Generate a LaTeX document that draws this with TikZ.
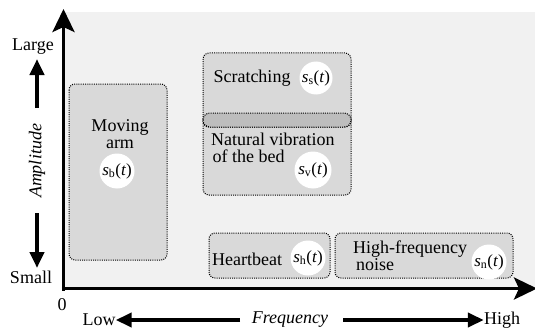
\documentclass[tikz,border=0pt]{standalone}
\usepackage{fontspec}
\setmainfont{Liberation Serif}
\usetikzlibrary{arrows.meta}
\definecolor{bggray}{HTML}{F1F1F1}
\definecolor{boxgray}{HTML}{D9D9D9}
\definecolor{overlapgray}{HTML}{BDBDBD}
\newcommand{\sgl}[1]{\textit{s}\textsubscript{#1}(\textit{t})}
\tikzset{
  region/.style={draw=black, dash pattern=on 1pt off 1.2pt, line width=1pt, fill=boxgray, rounded corners=6pt},
  sigcircle/.style={circle, fill=white, inner sep=0pt, minimum size=35pt, font=\fontsize{17}{17}\selectfont},
  lbl/.style={font=\fontsize{18}{17}\selectfont, inner sep=0pt},
  axisline/.style={line width=3.5pt, -{Stealth[length=23pt,width=22pt,inset=5pt]}},
  dirarrow/.style={line width=4pt, -{Triangle[length=16pt,width=14pt]}},
}
\begin{document}
\begin{tikzpicture}[x=1pt,y=-1pt]
\useasboundingbox (0,0) rectangle (535,329);
% background
\fill[bggray] (63.5,12) rectangle (535,288.5);
% regions
\draw[region] (69,84) rectangle (167,260);
\draw[region] (203,113) rectangle (351,195);
\draw[region] (203,53) rectangle (351,127);
\draw[region, fill=overlapgray, rounded corners=7pt] (203,113) rectangle (351,127);
\draw[region] (209,233) rectangle (330,278);
\draw[region] (335,233) rectangle (513,278);
% axes
\coordinate (origin) at (63.5,290.5);
\coordinate (ytop) at (63.5,9);
\coordinate (xend) at (537,288.5);
\coordinate (xstart) at (61.75,288.5);
\draw[axisline] (origin) -- (ytop);
\draw[axisline] (xstart) -- (xend);
\node[lbl] (zero) at (62,305) {0};
% amplitude axis labels
\node[lbl] (large) at (33,47) {Large};
\node[lbl] (small) at (31,277) {Small};
\node[lbl, rotate=90, font=\fontsize{18}{18}\selectfont\itshape] (amp) at (37,161) {Amplitude};
\coordinate (upt) at (37,108);
\coordinate (upe) at (37,59);
\coordinate (dnt) at (37,213);
\coordinate (dne) at (37,268);
\draw[dirarrow] (upt) -- (upe);
\draw[dirarrow] (dnt) -- (dne);
% frequency labels
\node[lbl] (low) at (99,320) {Low};
\node[lbl, font=\fontsize{18}{18}\selectfont\itshape] (freq) at (290,320) {Frequency};
\node[lbl] (high) at (502,320) {High};
\coordinate (lt) at (240,320);
\coordinate (rt) at (343,320);
\draw[dirarrow] (lt) -- (low.east);
\draw[dirarrow] (rt) -- (high.west);
% region texts
\node[lbl, align=center] (arm) at (120,134) {Moving\\arm};
\node[sigcircle] (sb) at (117,171) {\sgl{b}};
\node[lbl] (scr) at (252,78) {Scratching};
\node[sigcircle, minimum size=33pt] (ss) at (316,78) {\sgl{s}};
\node[lbl, align=left, anchor=north west] (nat) at (211,133) {Natural vibration\\\hspace*{1.5pt}of the bed};
\node[sigcircle, minimum size=37pt] (sv) at (313,170) {\sgl{v}};
\node[lbl, anchor=west] (hb) at (212,259) {Heartbeat};
\node[sigcircle] (sh) at (308,258) {\sgl{h}};
\node[lbl, align=left, anchor=north west] (hf) at (353,241) {High-frequency\\\hspace*{3pt}noise};
\node[sigcircle] (sn) at (489,262) {\sgl{n}};
\end{tikzpicture}
\end{document}
